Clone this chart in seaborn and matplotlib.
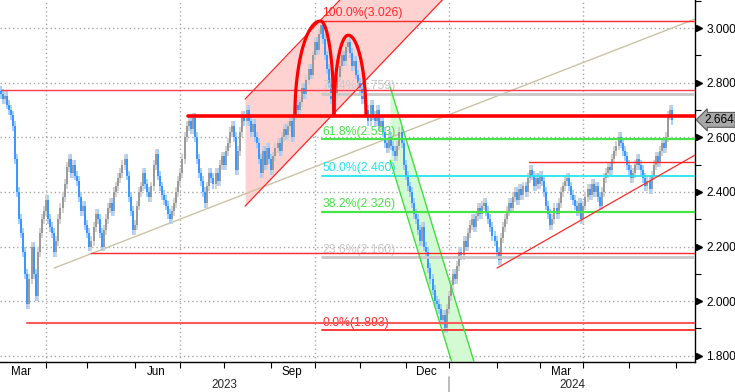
import matplotlib

matplotlib.use("Agg")
import matplotlib.pyplot as plt
import matplotlib.transforms as mtransforms
import numpy as np
import pandas as pd
import seaborn as sns

# daily closes, one per trading day from 1 Mar 2023
CLOSES = [
    2.77, 2.76, 2.74, 2.75, 2.72, 2.70, 2.68, 2.64, 2.52, 2.40,
    2.30, 2.25, 2.18, 2.10, 1.99, 2.08, 2.20, 2.10, 2.02, 2.18,
    2.25, 2.30, 2.33, 2.37, 2.30, 2.27, 2.25, 2.18, 2.22, 2.30,
    2.34, 2.38, 2.43, 2.49, 2.52, 2.47, 2.50, 2.46, 2.44, 2.38,
    2.33, 2.35, 2.28, 2.25, 2.20, 2.22, 2.27, 2.32, 2.30, 2.25,
    2.20, 2.26, 2.30, 2.34, 2.36, 2.33, 2.40, 2.42, 2.45, 2.47,
    2.50, 2.52, 2.46, 2.38, 2.33, 2.26, 2.28, 2.35, 2.40, 2.42,
    2.47, 2.43, 2.40, 2.38, 2.42, 2.50, 2.54, 2.46, 2.42, 2.39,
    2.37, 2.35, 2.32, 2.30, 2.33, 2.36, 2.40, 2.44, 2.47, 2.52,
    2.60, 2.64, 2.66, 2.63, 2.67, 2.60, 2.52, 2.47, 2.44, 2.40,
    2.36, 2.42, 2.47, 2.45, 2.43, 2.47, 2.44, 2.50, 2.53, 2.50,
    2.55, 2.58, 2.62, 2.64, 2.60, 2.48, 2.55, 2.62, 2.68, 2.66,
    2.70, 2.66, 2.62, 2.65, 2.60, 2.58, 2.52, 2.47, 2.55, 2.50,
    2.56, 2.52, 2.48, 2.53, 2.56, 2.58, 2.55, 2.60, 2.63, 2.61,
    2.64, 2.66, 2.60, 2.68, 2.72, 2.70, 2.73, 2.78, 2.76, 2.81,
    2.85, 2.83, 2.90, 2.95, 2.92, 2.98, 3.01, 2.96, 2.90, 2.85,
    2.80, 2.74, 2.70, 2.76, 2.82, 2.86, 2.90, 2.88, 2.93, 2.95,
    2.91, 2.86, 2.88, 2.83, 2.80, 2.78, 2.74, 2.76, 2.70, 2.66,
    2.72, 2.68, 2.66, 2.70, 2.64, 2.66, 2.62, 2.58, 2.56, 2.60,
    2.57, 2.55, 2.53, 2.57, 2.62, 2.58, 2.50, 2.46, 2.42, 2.40,
    2.36, 2.32, 2.30, 2.26, 2.22, 2.27, 2.20, 2.18, 2.12, 2.08,
    2.04, 2.00, 1.99, 1.97, 1.93, 1.95, 1.90, 1.97, 2.02, 2.06,
    2.10, 2.08, 2.13, 2.18, 2.17, 2.22, 2.20, 2.25, 2.28, 2.30,
    2.27, 2.31, 2.34, 2.32, 2.35, 2.36, 2.33, 2.30, 2.27, 2.24,
    2.22, 2.18, 2.15, 2.23, 2.27, 2.30, 2.33, 2.36, 2.34, 2.38,
    2.40, 2.37, 2.41, 2.39, 2.42, 2.40, 2.45, 2.48, 2.46, 2.42,
    2.45, 2.43, 2.46, 2.44, 2.40, 2.35, 2.32, 2.28, 2.30, 2.34,
    2.32, 2.36, 2.40, 2.42, 2.44, 2.45, 2.42, 2.39, 2.37, 2.35,
    2.33, 2.36, 2.30, 2.35, 2.38, 2.41, 2.39, 2.43, 2.40, 2.42,
    2.38, 2.35, 2.40, 2.45, 2.47, 2.49, 2.48, 2.52, 2.55, 2.57,
    2.60, 2.58, 2.55, 2.53, 2.50, 2.48, 2.45, 2.47, 2.50, 2.52,
    2.50, 2.48, 2.45, 2.42, 2.44, 2.41, 2.46, 2.50, 2.53, 2.51,
    2.55, 2.58, 2.56, 2.60, 2.68, 2.70, 2.664,
]
LAST_PRICE = 2.664

# Fibonacci retracement of the Oct high / Dec low
FIB_PCT = [100.0, 76.4, 61.8, 50.0, 38.2, 23.6, 0.0]
FIB_LEVELS = [3.026, 2.759, 2.593, 2.460, 2.326, 2.160, 1.893]
FIB_START = 156.5

# horizontal support / resistance lines: level and first bar
HLINE_LEVELS = [2.773, 2.677, 2.176, 1.921, 2.509]
HLINE_START = [1.0, 91.7, 44.8, 13.8, 256.7]

# trend lines (bar index, price)
TAN_X = [26.9, 337.0]
TAN_Y = [2.121, 3.033]
SUPPORT_X = [241.2, 337.0]
SUPPORT_Y = [2.121, 2.535]

# rising channel (pink) and falling channel (green)
RISE_X = [119.3, 215.0]
RISE_LOW = [2.348, 3.105]
RISE_HIGH = [2.740, 3.497]
FALL_X = [189.5, 232.0]
FALL_LOW = [2.516, 1.462]
FALL_HIGH = [2.784, 1.730]

# double top: left foot, peak, right foot (bar index), neckline, peak price
ARCHES = [
    (143.4, 155.8, 162.3, 2.677, 3.026),
    (162.3, 169.2, 177.8, 2.677, 2.974),
]

Y_TICKS = [1.8, 2.0, 2.2, 2.4, 2.6, 2.8, 3.0]
MONTH_LABELS = ["Mar", "Jun", "Sep", "Dec", "Mar"]

RED = "#ff2a2a"
BLUE = "#2f93ff"
BLUE_LIGHT = "#9ccbff"
GREY = "#959595"
GREY_LIGHT = "#cfcfcf"


def main():
    sns.set_theme(style="white")
    plt.rcParams["font.family"] = ["Liberation Sans", "DejaVu Sans"]

    n = len(CLOSES)
    idx = np.arange(n)
    dates = pd.bdate_range("2023-03-01", "2024-07-31")
    closes = np.array(CLOSES)
    opens = np.r_[closes[0], closes[:-1]]

    fig = plt.figure(figsize=(7.35, 3.92), dpi=100)
    ax = fig.add_axes([0, 30 / 392, 695 / 735, 362 / 392])
    x_lo, x_hi = 0.73, 337.0
    ax.set_xlim(x_lo, x_hi)
    ax.set_ylim(1.777, 3.103)

    # month starts in bar-index units
    month_starts = pd.date_range("2023-04-01", "2024-06-01", freq="MS")
    month_pos = [dates.searchsorted(d) for d in month_starts]

    # grid: dotted, y every 0.2, x at quarter starts
    grid_kw = dict(color="#a8a8a8", lw=1, ls=(0, (1, 2)), zorder=0.5)
    for v in Y_TICKS:
        ax.axhline(v, **grid_kw)
    for d, p in zip(month_starts, month_pos):
        if d.month in (1, 4, 7, 10):
            ax.axvline(p, **grid_kw)

    # channels
    ax.fill_between(RISE_X, RISE_LOW, RISE_HIGH, color="#ffd2d2", zorder=1, lw=0)
    ax.plot(RISE_X, RISE_LOW, color=RED, lw=0.9, zorder=3)
    ax.plot(RISE_X, RISE_HIGH, color=RED, lw=0.9, zorder=3)
    ax.fill_between(FALL_X, FALL_LOW, FALL_HIGH, color="#d4fad4", zorder=1, lw=0)
    ax.plot(FALL_X, FALL_LOW, color="#3ee03e", lw=1.0, zorder=3)
    ax.plot(FALL_X, FALL_HIGH, color="#3ee03e", lw=1.0, zorder=3)

    # trend lines
    sns.lineplot(x=TAN_X, y=TAN_Y, ax=ax, color="#cbc3a3", lw=1.0, zorder=1.5)
    sns.lineplot(x=SUPPORT_X, y=SUPPORT_Y, ax=ax, color=RED, lw=0.9, zorder=3)

    # bars: light wick behind a darker body
    up = closes >= opens
    lo = np.minimum(opens, closes)
    hi = np.maximum(opens, closes)
    wick = 0.018
    ax.vlines(idx[up], lo[up] - wick, hi[up] + wick, color=GREY_LIGHT, lw=1.3, zorder=1.8)
    ax.vlines(idx[~up], lo[~up] - wick, hi[~up] + wick, color=BLUE_LIGHT, lw=1.3, zorder=1.8)
    ax.vlines(idx[up], lo[up], hi[up], color=GREY, lw=1.3, zorder=2)
    ax.vlines(idx[~up], lo[~up], hi[~up], color=BLUE, lw=1.3, zorder=2)

    # fibonacci levels
    fib_colors = [RED, "#c8c8c8", "#47e447", "#22e6ee", "#47e447", "#c8c8c8", RED]
    fib_widths = [1.0, 2.0, 1.6, 1.3, 1.6, 2.0, 1.3]
    for pct, lev, c, w in zip(FIB_PCT, FIB_LEVELS, fib_colors, fib_widths):
        ax.plot([FIB_START, x_hi], [lev, lev], color=c, lw=w, zorder=2.6)
        ax.text(FIB_START + 0.3, lev + 0.006, f"{pct:.1f}%({lev:.3f})",
                color=c, fontsize=8.8, ha="left", va="bottom", zorder=2.5)

    # horizontal lines
    h_widths = [1.0, 2.6, 1.0, 1.5, 1.0]
    h_colors = ["#ff3a4a", "#ff0000", RED, "#ff5a5a", RED]
    for lev, start, w, c in zip(HLINE_LEVELS, HLINE_START, h_widths, h_colors):
        ax.plot([start, x_hi], [lev, lev], color=c, lw=w, zorder=3)

    # double top arches (two quarter ellipses each)
    t = np.linspace(0, np.pi / 2, 40)
    for left, peak, right, base, top in ARCHES:
        xs = np.r_[peak - (peak - left) * np.cos(t), peak + (right - peak) * np.sin(t)]
        ys = np.r_[base + (top - base) * np.sin(t), base + (top - base) * np.cos(t)]
        ax.plot(xs, ys, color="#ff0000", lw=2.3, zorder=4, solid_capstyle="butt")

    # right axis
    for s in ("top", "left"):
        ax.spines[s].set_visible(False)
    for s in ("right", "bottom"):
        ax.spines[s].set_color("black")
        ax.spines[s].set_linewidth(1.0)
    ax.yaxis.tick_right()
    ax.set_yticks(Y_TICKS)
    ax.set_yticklabels([f"{v:.3f}" for v in Y_TICKS])
    ax.set_yticks(np.arange(1.9, 3.11, 0.2), minor=True)
    ax.tick_params(axis="y", which="major", length=0, pad=8, labelsize=8.6,
                   colors="black")
    ax.tick_params(axis="y", which="minor", right=True, length=4, width=0.8,
                   direction="out", color="black")
    yblend = mtransforms.blended_transform_factory(ax.transAxes, ax.transData)
    ax.plot([1 + 3.5 / 695] * len(Y_TICKS), Y_TICKS, ls="none", marker=">",
            ms=4.2, color="black", transform=yblend, clip_on=False)

    ax.text(1 + 9 / 695, LAST_PRICE, f"{LAST_PRICE:.3f}", transform=yblend,
            ha="left", va="center", fontsize=8.6, color="black",
            bbox=dict(boxstyle="larrow,pad=0.12", fc="#a8a8a8", ec="#5a5a5a", lw=0.8))

    # bottom axis
    ax.set_xticks(month_pos)
    ax.set_xticklabels([""] * len(month_pos))
    ax.tick_params(axis="x", which="major", bottom=True, length=4, width=0.8,
                   direction="out", color="black")
    label_months = pd.to_datetime(["2023-03-01", "2023-06-01", "2023-09-01",
                                   "2023-12-01", "2024-03-01"])
    label_pos = []
    for d in label_months:
        a = dates.searchsorted(d)
        b = dates.searchsorted(d + pd.offsets.MonthBegin(1))
        label_pos.append((a + b) / 2 - 0.5)
    ax.set_xticks(label_pos, minor=True)
    ax.set_xticklabels(MONTH_LABELS, minor=True)
    ax.tick_params(axis="x", which="minor", length=0, pad=3, labelsize=8.4,
                   colors="black")

    jan = dates.searchsorted(pd.Timestamp("2024-01-01"))
    xblend = mtransforms.blended_transform_factory(ax.transData, ax.transAxes)
    ax.text((x_lo + jan) / 2, -0.048, "2023", transform=xblend, ha="center",
            va="top", fontsize=8.4)
    ax.text((jan + x_hi) / 2, -0.048, "2024", transform=xblend, ha="center",
            va="top", fontsize=8.4)
    ax.plot([jan, jan], [-0.042, -0.085], color="#b0b0b0", lw=1.2,
            transform=xblend, clip_on=False)

    fig.savefig("out.png", dpi=100)
    plt.close(fig)


if __name__ == "__main__":
    main()
